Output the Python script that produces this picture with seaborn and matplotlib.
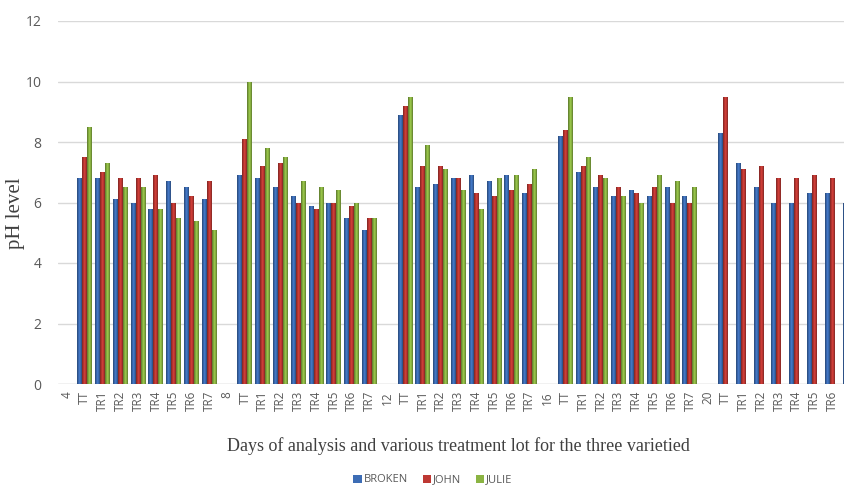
import numpy as np
import pandas as pd
import matplotlib
matplotlib.use("Agg")
import matplotlib.pyplot as plt
from matplotlib.patches import Patch
from matplotlib.colors import to_rgb
import seaborn as sns

# ---- data ----
days = ["4", "8", "12", "16", "20"]
treatments = ["TT", "TR1", "TR2", "TR3", "TR4", "TR5", "TR6", "TR7"]
series_names = ["BROKEN", "JOHN", "JULIE"]

broken_d4  = [6.8, 6.8, 6.1, 6.0, 5.8, 6.7, 6.5, 6.1]
john_d4    = [7.5, 7.0, 6.8, 6.8, 6.9, 6.0, 6.2, 6.7]
julie_d4   = [8.5, 7.3, 6.5, 6.5, 5.8, 5.5, 5.4, 5.1]

broken_d8  = [6.9, 6.8, 6.5, 6.2, 5.9, 6.0, 5.5, 5.1]
john_d8    = [8.1, 7.2, 7.3, 6.0, 5.8, 6.0, 5.9, 5.5]
julie_d8   = [10.0, 7.8, 7.5, 6.7, 6.5, 6.4, 6.0, 5.5]

broken_d12 = [8.9, 6.5, 6.6, 6.8, 6.9, 6.7, 6.9, 6.3]
john_d12   = [9.2, 7.2, 7.2, 6.8, 6.3, 6.2, 6.4, 6.6]
julie_d12  = [9.5, 7.9, 7.1, 6.4, 5.8, 6.8, 6.9, 7.1]

broken_d16 = [8.2, 7.0, 6.5, 6.2, 6.4, 6.2, 6.5, 6.2]
john_d16   = [8.4, 7.2, 6.9, 6.5, 6.3, 6.5, 6.0, 6.0]
julie_d16  = [9.5, 7.5, 6.8, 6.2, 6.0, 6.9, 6.7, 6.5]

broken_d20 = [8.3, 7.3, 6.5, 6.0, 6.0, 6.3, 6.3, 6.0]
john_d20   = [9.5, 7.1, 7.2, 6.8, 6.8, 6.9, 6.8, 6.8]
julie_d20  = [np.nan] * 8

values = {
    "BROKEN": [broken_d4, broken_d8, broken_d12, broken_d16, broken_d20],
    "JOHN":   [john_d4, john_d8, john_d12, john_d16, john_d20],
    "JULIE":  [julie_d4, julie_d8, julie_d12, julie_d16, julie_d20],
}
colors = {"BROKEN": "#3D6DB5", "JOHN": "#BE3833", "JULIE": "#8BB443"}

# ---- build long table ----
slots, tick_labels, rows = [], [], []
for di, d in enumerate(days):
    slots.append(f"d{d}")
    tick_labels.append(d)
    for ti, t in enumerate(treatments):
        key = f"d{d}_{t}"
        slots.append(key)
        tick_labels.append(t)
        for s in series_names:
            v = values[s][di][ti]
            if not np.isnan(v):
                rows.append({"slot": key, "series": s, "pH": v})
df = pd.DataFrame(rows)

# ---- figure ----
sns.set_theme(style="white")
fig = plt.figure(figsize=(8.44, 4.88), dpi=100)
W, H = 844, 488
left_px, right_px, top_px, bottom_px = 58, 859, 21, 384
ax = fig.add_axes([left_px / W, 1 - bottom_px / H,
                   (right_px - left_px) / W, (bottom_px - top_px) / H])

sns.barplot(data=df, x="slot", y="pH", hue="series", order=slots,
            hue_order=series_names, palette=colors, width=0.84,
            errorbar=None, saturation=1, legend=False, ax=ax,
            linewidth=0)

ax.set_ylim(0, 12)
ax.set_xlim(-0.5, len(slots) - 0.5)

# subtle cylinder-like shading on each bar (Excel gradient look)
prof = np.array([0.70, 0.85, 1.0, 1.12, 1.05, 0.90, 0.72])
for p in list(ax.patches):
    h = p.get_height()
    if not np.isfinite(h) or h <= 0:
        continue
    base = np.array(to_rgb(p.get_facecolor()))
    grad = np.clip(base[None, :] * prof[:, None], 0, 1)[None, :, :]
    x0, w = p.get_x(), p.get_width()
    im = ax.imshow(grad, extent=(x0, x0 + w, 0, h), aspect="auto",
                   interpolation="bilinear", zorder=p.get_zorder() + 0.1)
    im.set_clip_path(p)
ax.set_ylim(0, 12)
ax.set_xlim(-0.5, len(slots) - 0.5)
ax.set_aspect("auto")

ax.set_yticks(range(0, 13, 2))
ax.yaxis.grid(True, color="#D9D9D9", linewidth=1.0)
ax.set_axisbelow(True)
for sp in ax.spines.values():
    sp.set_visible(False)
ax.axhline(0, color="#D9D9D9", linewidth=1.0, zorder=0)

tick_font = ["Open Sans", "DejaVu Sans"]
ax.set_xticks(range(len(slots)))
ax.set_xticklabels(tick_labels, rotation=90, fontsize=8.5, color="#595959",
                   family=tick_font)
ax.tick_params(axis="x", length=0, pad=5)
ax.tick_params(axis="y", length=0, pad=12, labelsize=10, labelcolor="#595959")
for lab in ax.get_yticklabels():
    lab.set_family(tick_font)

ax.set_ylabel("pH level", family="Liberation Serif", fontsize=15, color="#404040")
ax.yaxis.set_label_coords((25 - left_px) / (right_px - left_px), 0.47)
ax.set_xlabel("Days of analysis and various treatment lot for the three varietied",
              family="Liberation Serif", fontsize=13, color="#404040")
ax.xaxis.set_label_coords(0.5, -(437 - bottom_px) / (bottom_px - top_px))

handles = [Patch(facecolor=colors[s], edgecolor="none", label=s) for s in series_names]
leg = fig.legend(handles=handles, loc="center", bbox_to_anchor=(433 / W, 1 - 480 / H),
                 ncol=3, frameon=False, handlelength=0.75, handleheight=0.75,
                 handletextpad=0.2, columnspacing=1.3,
                 prop={"family": tick_font, "size": 8})
for t in leg.get_texts():
    t.set_color("#595959")

fig.savefig("out.png", dpi=100)
